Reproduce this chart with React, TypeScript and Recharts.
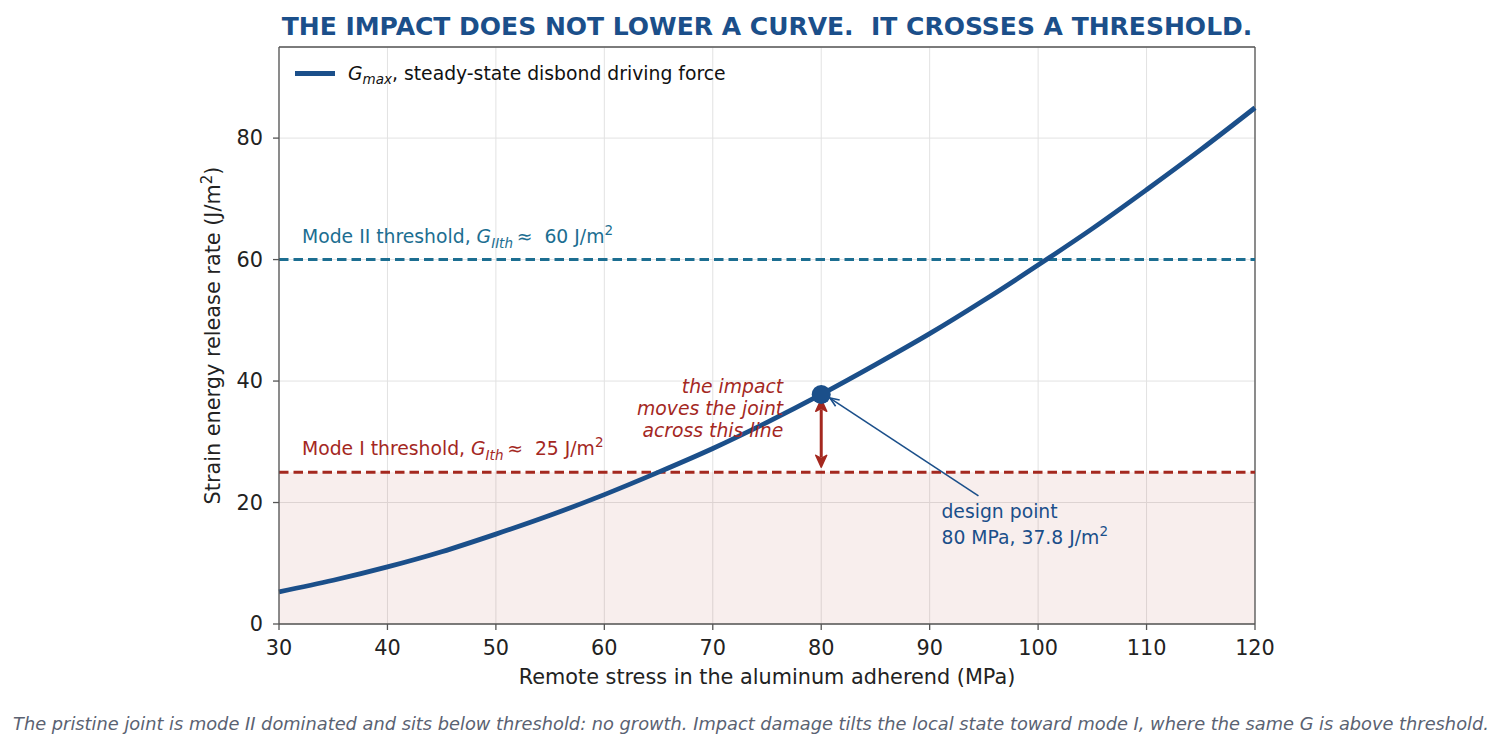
import React from 'react';
import {
  LineChart,
  Line,
  XAxis,
  YAxis,
  CartesianGrid,
  ReferenceLine,
  ReferenceArea,
  ReferenceDot,
  Label,
} from 'recharts';

// values
const stressMPa = [30, 35, 40, 45, 50, 55, 60, 65, 70, 75, 80, 85, 90, 95, 100, 105, 110, 115, 120];
const gmax = [5.3, 7.2, 9.4, 11.9, 14.8, 17.9, 21.3, 25.0, 28.9, 33.2, 37.8, 42.7, 47.8, 53.3, 59.1, 65.1, 71.5, 78.1, 85.0];

const xTicks = [30, 40, 50, 60, 70, 80, 90, 100, 110, 120];
const yTicks = [0, 20, 40, 60, 80];

const modeIIth = 60;
const modeIth = 25;
const designStress = 80;
const designG = 37.8;

const impactArrow = [{x: 80, y: 25.8}, {x: 80, y: 37.0}];
const designArrow = [{x: 94.5, y: 21.1}, {x: 80.8, y: 37.2}];

const data = stressMPa.map((s, i) => ({stress: s, g: gmax[i]}));

const FONT = '"DejaVu Sans", sans-serif';
const BLUE = '#1b4f8a';
const TEAL = '#1c6e91';
const RED = '#a4281f';
const AXIS = '#555555';
const INK = '#222222';
const NOTE = 18.8;
const AX = 20.8;

const ThresholdLabel = ({viewBox, color, sub, value}: any) => {
  const x = viewBox.x + 23;
  const y = viewBox.y - 17;
  return (
    <text x={x} y={y} fill={color} fontSize={NOTE} fontFamily={FONT}>
      {sub === 'IIth' ? 'Mode II threshold, ' : 'Mode I threshold, '}
      <tspan fontStyle="italic">G</tspan>
      <tspan fontStyle="italic" fontSize={13.5} dy={5}>{sub}</tspan>
      <tspan dy={-5}>{'\u2009\u2248\u00a0 ' + value + ' J/m'}</tspan>
      <tspan fontSize={13.5} dy={-8}>2</tspan>
    </text>
  );
};

const YTitle = ({viewBox}: any) => {
  const cx = viewBox.x + 1;
  const cy = viewBox.y + viewBox.height / 2;
  return (
    <text transform={`translate(${cx},${cy}) rotate(-90)`} textAnchor="middle" fill={INK} fontSize={AX} fontFamily={FONT}>
      Strain energy release rate (J/m<tspan fontSize={15} dy={-8}>2</tspan><tspan dy={8}>)</tspan>
    </text>
  );
};

const XTitle = ({viewBox}: any) => (
  <text x={viewBox.x + viewBox.width / 2} y={viewBox.y + 60} textAnchor="middle" fill={INK} fontSize={AX} fontFamily={FONT}>
    Remote stress in the aluminum adherend (MPa)
  </text>
);

// double headed arrow plus the italic note to its left
const ImpactArrow = (props: any) => {
  const {x1, y1, x2, y2} = props;
  const bottom = Math.max(y1, y2);
  const top = Math.min(y1, y2);
  const hl = 12;
  const hw = 5.5;
  return (
    <g>
      <line x1={x1} y1={bottom - hl + 2} x2={x1} y2={top + hl - 2} stroke={RED} strokeWidth={3} />
      <polygon points={`${x1},${top} ${x1 - hw},${top + hl} ${x1},${top + hl - 3} ${x1 + hw},${top + hl}`} fill={RED} stroke={RED} strokeWidth={1.5} strokeLinejoin="round" />
      <polygon points={`${x1},${bottom} ${x1 - hw},${bottom - hl} ${x1},${bottom - hl + 3} ${x1 + hw},${bottom - hl}`} fill={RED} stroke={RED} strokeWidth={1.5} strokeLinejoin="round" />
      <text x={x1 - 38} y={top - 6} textAnchor="end" fill={RED} fontSize={NOTE} fontStyle="italic" fontFamily={FONT}>
        <tspan x={x1 - 38} dy={0}>the impact</tspan>
        <tspan x={x1 - 38} dy={22}>moves the joint</tspan>
        <tspan x={x1 - 38} dy={22}>across this line</tspan>
      </text>
    </g>
  );
};

// thin pointer from the note to the design point
const DesignArrow = (props: any) => {
  const {x1, y1, x2, y2} = props;
  const ang = Math.atan2(y2 - y1, x2 - x1);
  const len = 10;
  const spread = 0.38;
  const a1x = x2 - len * Math.cos(ang - spread);
  const a1y = y2 - len * Math.sin(ang - spread);
  const a2x = x2 - len * Math.cos(ang + spread);
  const a2y = y2 - len * Math.sin(ang + spread);
  return (
    <g>
      <line x1={x1} y1={y1} x2={x2} y2={y2} stroke={BLUE} strokeWidth={1.6} />
      <polyline points={`${a1x},${a1y} ${x2},${y2} ${a2x},${a2y}`} fill="none" stroke={BLUE} strokeWidth={1.6} />
      <text x={x1 - 37} y={y1 + 22} fill={BLUE} fontSize={NOTE} fontFamily={FONT}>design point</text>
      <text x={x1 - 37} y={y1 + 48} fill={BLUE} fontSize={NOTE} fontFamily={FONT}>
        80 MPa, 37.8 J/m<tspan fontSize={13.5} dy={-8}>2</tspan>
      </text>
    </g>
  );
};

const App = () => {
  return (
    <div style={{position: 'relative', width: 1502, height: 750, margin: -8, fontFamily: FONT, background: '#fff'}}>
      <div style={{position: 'absolute', left: 267, top: 14, width: 1000, textAlign: 'center', fontSize: 25, lineHeight: '25px', fontWeight: 'bold', color: BLUE, whiteSpace: 'pre'}}>
        {'THE IMPACT DOES NOT LOWER A CURVE.  IT CROSSES A THRESHOLD.'}
      </div>

      <LineChart width={1502} height={750} data={data} margin={{top: 47, right: 247, bottom: 96, left: 219}}>
        <ReferenceArea y1={0} y2={modeIth} x1={30} x2={120} fill={RED} fillOpacity={0.08} stroke="none" />
        <CartesianGrid stroke="#e2e2e2" strokeWidth={1} />
        <XAxis
          dataKey="stress"
          type="number"
          domain={[30, 120]}
          ticks={xTicks}
          height={30}
          stroke={AXIS}
          strokeWidth={1.3}
          tickSize={6}
          tickMargin={10}
          tick={{fill: INK, fontSize: AX, fontFamily: FONT}}
        >
          <Label content={<XTitle />} />
        </XAxis>
        <YAxis
          type="number"
          domain={[0, 95]}
          ticks={yTicks}
          width={60}
          stroke={AXIS}
          strokeWidth={1.3}
          tickSize={6}
          tickMargin={10}
          tick={{fill: INK, fontSize: AX, fontFamily: FONT}}
        >
          <Label content={<YTitle />} />
        </YAxis>
        <ReferenceLine y={95} stroke={AXIS} strokeWidth={1.3} ifOverflow="visible" />
        <ReferenceLine x={120} stroke={AXIS} strokeWidth={1.3} ifOverflow="visible" />
        <ReferenceLine
          y={modeIIth}
          stroke={TEAL}
          strokeWidth={3}
          strokeDasharray="9.5 5"
          label={<ThresholdLabel color={TEAL} sub="IIth" value={60} />}
        />
        <ReferenceLine
          y={modeIth}
          stroke={RED}
          strokeWidth={3}
          strokeDasharray="9.5 5"
          label={<ThresholdLabel color={RED} sub="Ith" value={25} />}
        />
        <Line
          type="monotone"
          dataKey="g"
          stroke={BLUE}
          strokeWidth={4.8}
          dot={false}
          activeDot={false}
          isAnimationActive={false}
        />
        <ReferenceDot x={designStress} y={designG} r={9.5} fill={BLUE} stroke="none" />
        <ReferenceLine segment={impactArrow} shape={(p: any) => <ImpactArrow {...p} />} />
        <ReferenceLine segment={designArrow} shape={(p: any) => <DesignArrow {...p} />} />
      </LineChart>

      <div style={{position: 'absolute', left: 295, top: 71, width: 40, height: 4.5, background: BLUE}} />
      <div style={{position: 'absolute', left: 348, top: 65, fontSize: NOTE, lineHeight: '18px', color: '#111', whiteSpace: 'pre'}}>
        <i>G</i><sub style={{fontSize: 13.5, fontStyle: 'italic', verticalAlign: '-4px', lineHeight: 0}}>max</sub>, steady-state disbond driving force
      </div>

      <div style={{position: 'absolute', left: 0, top: 715, width: 1502, textAlign: 'center', fontSize: 17.8, lineHeight: '17.8px', fontStyle: 'italic', color: '#5a6272', whiteSpace: 'pre'}}>
        The pristine joint is mode II dominated and sits below threshold: no growth. Impact damage tilts the local state toward mode I, where the same G is above threshold.
      </div>
    </div>
  );
};

export default App;
